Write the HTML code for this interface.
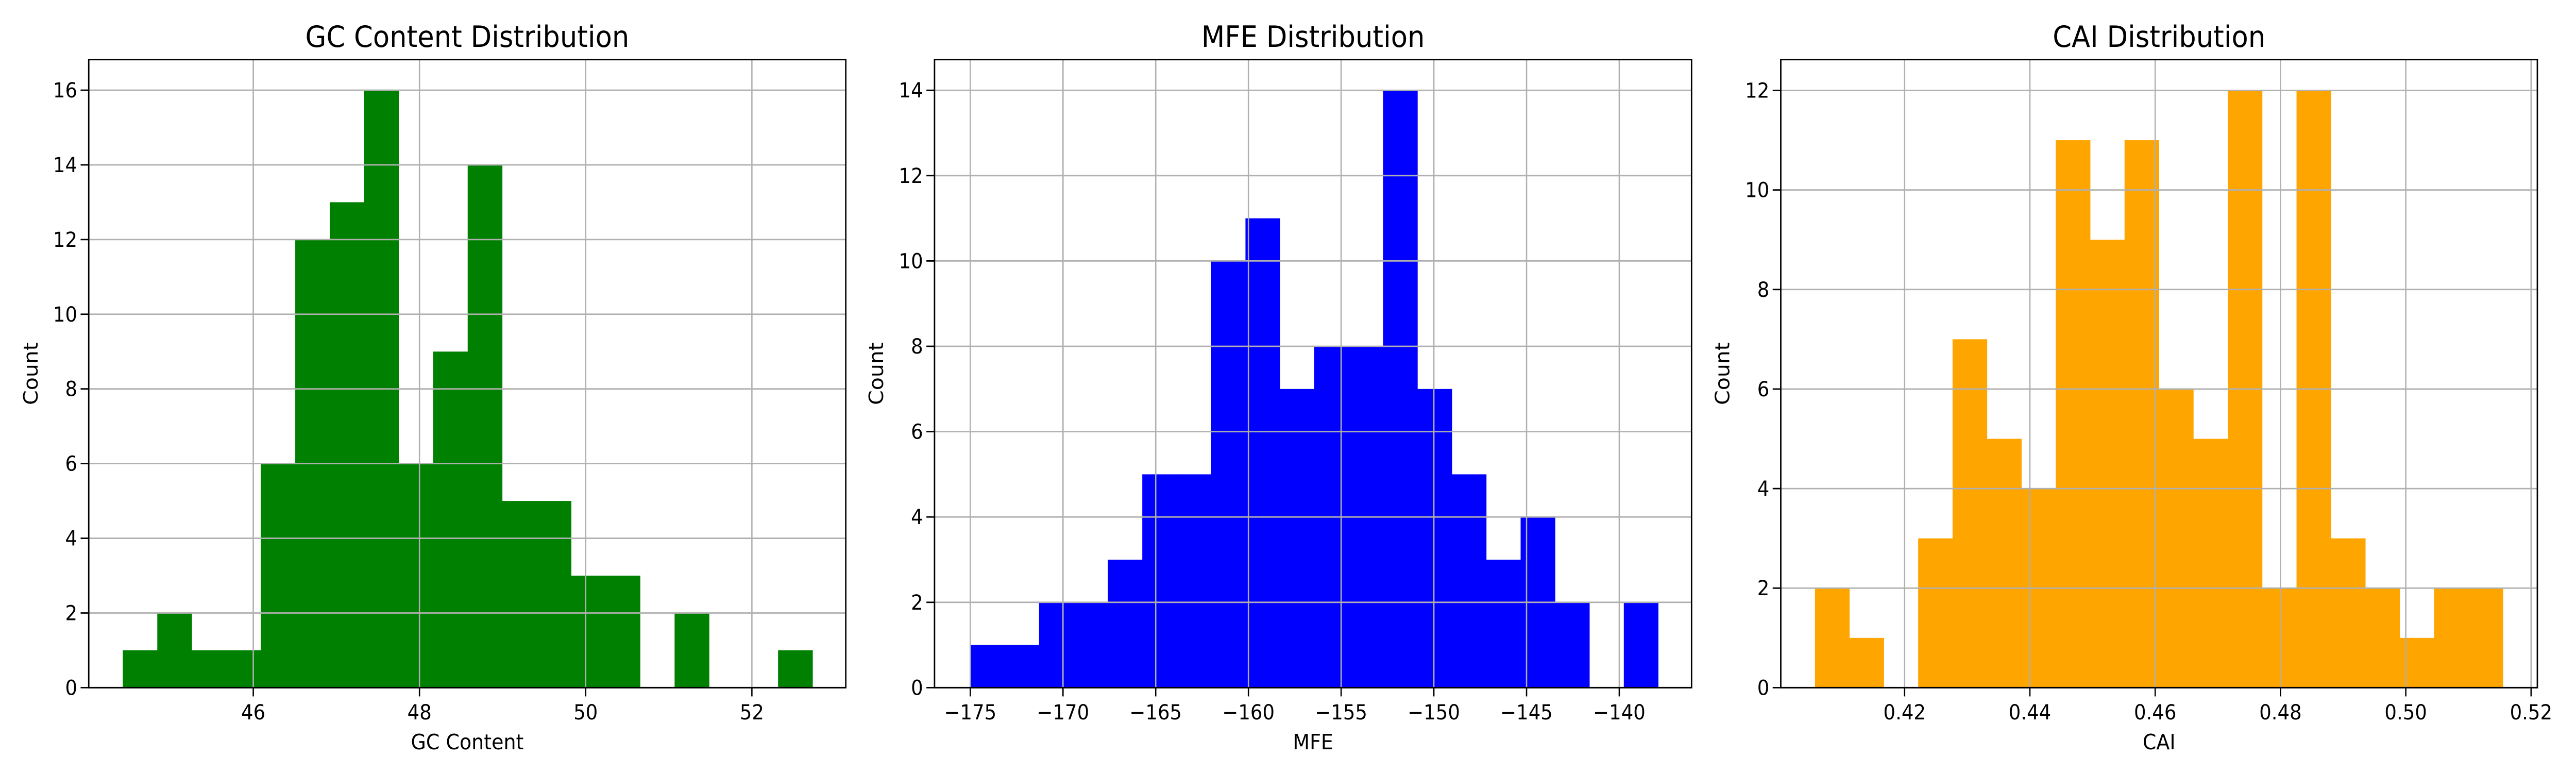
<!DOCTYPE html>
<html><head><meta charset="utf-8">
<style>
html,body{margin:0;padding:0;background:#fff;overflow:hidden;width:100vw;height:100vh;}
svg{display:block;width:100vw;height:100vh;font-family:"DejaVu Sans","Liberation Sans",sans-serif;}
</style></head>
<body>
<svg id="fig" viewBox="0 0 5400 1500" preserveAspectRatio="none" xmlns="http://www.w3.org/2000/svg"></svg>
<script>
// GC content histogram
const gcCounts = [1,2,1,1,6,12,13,16,6,9,14,5,5,3,3,0,2,0,0,1];
const gcRange = [44.43, 52.73];
const gcXTicks = [46,48,50,52];
const gcYTicks = [0,2,4,6,8,10,12,14,16];
// MFE histogram
const mfeCounts = [1,1,2,2,3,5,5,10,11,7,8,8,14,7,5,3,4,2,0,2];
const mfeRange = [-175.0, -137.9];
const mfeXTicks = [-175,-170,-165,-160,-155,-150,-145,-140];
const mfeYTicks = [0,2,4,6,8,10,12,14];
// CAI histogram
const caiCounts = [2,1,0,3,7,5,4,11,9,11,6,5,12,2,12,3,2,1,2,2];
const caiRange = [0.4057, 0.5155];
const caiXTicks = [0.42,0.44,0.46,0.48,0.50,0.52];
const caiYTicks = [0,2,4,6,8,10,12];

const NS = "http://www.w3.org/2000/svg";
const fig = document.getElementById('fig');
function mk(tag, attrs, parent){
  const e = document.createElementNS(NS, tag);
  for (const k in attrs) e.setAttribute(k, attrs[k]);
  parent.appendChild(e);
  return e;
}
function panel(cfg){
  const g = mk('g', {}, fig);
  
  
  const L=cfg.left, R=cfg.right, T=115.6, B=1334.4;
  const sx = v => L + (v - cfg.xmin) / (cfg.xmax - cfg.xmin) * (R - L);
  const sy = v => B - v / cfg.ymax * (B - T);
  const n = cfg.counts.length;
  const w = (cfg.range[1] - cfg.range[0]) / n;
  cfg.counts.forEach((c, i) => {
    if (c <= 0) return;
    const x0 = sx(cfg.range[0] + i*w), x1 = sx(cfg.range[0] + (i+1)*w);
    const r = mk('rect', {x:x0, y:sy(c), width:x1-x0+0.5, height:B - sy(c), fill:cfg.color}, g);
    
    
  });
  cfg.xticks.forEach(t => {
    const gl = mk('line', {x1:sx(t), x2:sx(t), y1:T, y2:B, stroke:'#b0b0b0', 'stroke-width':2.8}, g);
    
    
    mk('line', {x1:sx(t), x2:sx(t), y1:B, y2:B+17, stroke:'#000', 'stroke-width':2.8}, g);
    const tx = mk('text', {x:sx(t), y:1396, 'font-size':40, 'text-anchor':'middle', fill:'#000'}, g);
    tx.textContent = cfg.fmt(t);
    
    
  });
  cfg.yticks.forEach(t => {
    const gl = mk('line', {x1:L, x2:R, y1:sy(t), y2:sy(t), stroke:'#b0b0b0', 'stroke-width':2.8}, g);
    
    
    mk('line', {x1:L-17, x2:L, y1:sy(t), y2:sy(t), stroke:'#000', 'stroke-width':2.8}, g);
    const tx = mk('text', {x:L-24, y:sy(t)+14, 'font-size':40, 'text-anchor':'end', fill:'#000'}, g);
    tx.textContent = String(t);
    
    
  });
  const fr = mk('rect', {x:L, y:T, width:R-L, height:B-T, fill:'none', stroke:'#000', 'stroke-width':3}, g);
  
  
  const ti = mk('text', {x:(L+R)/2, y:91, 'font-size':57, 'text-anchor':'middle', fill:'#000'}, g);
  ti.textContent = cfg.title;
  
  
  const xl = mk('text', {x:(L+R)/2, y:1454, 'font-size':41, 'text-anchor':'middle', fill:'#000'}, g);
  xl.textContent = cfg.xlabel;
  
  
  const yl = mk('text', {x:0, y:0, 'font-size':41, 'text-anchor':'middle', fill:'#000', transform:'translate('+(cfg.ylx+14)+',725) rotate(-90)'}, g);
  yl.textContent = 'Count';
  
  
}
panel({key:'gc', left:186, right:1773, xmin:44.02, xmax:53.13, ymax:16.82, counts:gcCounts, range:gcRange,
  xticks:gcXTicks, yticks:gcYTicks, color:'#008000', title:'GC Content Distribution', xlabel:'GC Content', ylx:65,
  fmt:t=>String(t)});
panel({key:'mfe', left:1959, right:3546, xmin:-176.93, xmax:-136.1, ymax:14.72, counts:mfeCounts, range:mfeRange,
  xticks:mfeXTicks, yticks:mfeYTicks, color:'#0000ff', title:'MFE Distribution', xlabel:'MFE', ylx:1837,
  fmt:t=>'\u2212'+Math.abs(t)});
panel({key:'cai', left:3733, right:5319, xmin:0.40024, xmax:0.5210, ymax:12.62, counts:caiCounts, range:caiRange,
  xticks:caiXTicks, yticks:caiYTicks, color:'#ffa500', title:'CAI Distribution', xlabel:'CAI', ylx:3611,
  fmt:t=>t.toFixed(2)});
</script>
</body></html>
